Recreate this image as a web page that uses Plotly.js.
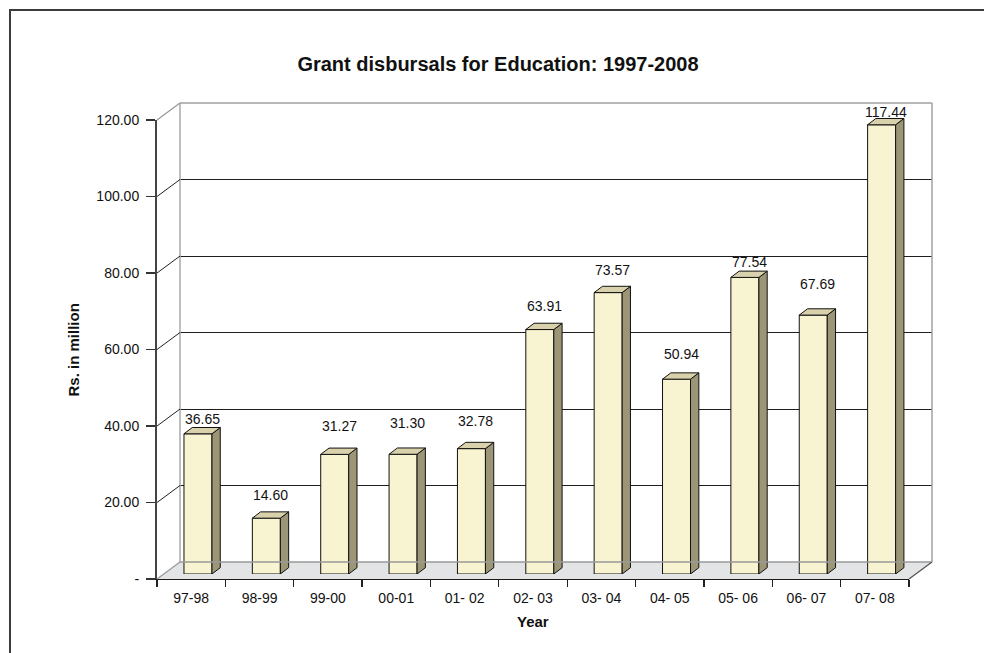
<!DOCTYPE html>
<html>
<head>
<meta charset="utf-8">
<script src="https://cdn.plot.ly/plotly-3.0.1.min.js"></script>
<style>
  html, body { margin: 0; padding: 0; background: #fff; }
  #wrap { position: relative; width: 984px; height: 653px; overflow: hidden; }
  #chart { position: absolute; left: 0; top: 0; width: 984px; height: 653px; }
  #frame { position: absolute; left: 9px; top: 9px; width: 1200px; height: 900px;
           border-left: 2px solid #3c3c3c; border-top: 2px solid #3c3c3c; pointer-events: none; }
</style>
</head>
<body>
<div id="wrap">
  <div id="chart"></div>
  <div id="frame"></div>
</div>
<script>
// Financial years and grant disbursals (Rs. million)
const years = ['97-98', '98-99', '99-00', '00-01', '01- 02', '02- 03', '03- 04', '04- 05', '05- 06', '06- 07', '07- 08'];
const grants = [36.65, 14.60, 31.27, 31.30, 32.78, 63.91, 73.57, 50.94, 77.54, 67.69, 117.44];
const yTickVals = [0, 20, 40, 60, 80, 100, 120];
const yTickText = ['-', '20.00', '40.00', '60.00', '80.00', '100.00', '120.00'];

// Vertical gap (px) between each bar top and its value label
const labelLift = [15, 23, 28, 31, 28, 24, 23, 25, 15, 31, 13];

// --- pseudo-3D geometry (pixels) ---
const W = 984, H = 653;
const M = { l: 157, r: 52, t: 103, b: 74 };
const PW = W - M.l - M.r;          // plot area width
const PH = H - M.t - M.b;          // plot area height
const WALL_DX = 23, WALL_DY = 17;  // back wall offset from the front plane
const BAR_DX = 6.8, BAR_DY = 5;    // plane holding the bar front faces
const FRONT_W = PW - WALL_DX, FRONT_H = PH - WALL_DY;
const YMAX = 120;
const N = years.length;
const catPx = FRONT_W / N;
const unitPx = FRONT_H / YMAX;

const BAR_W = 28 / catPx;          // bar width in category units
const DEPTH_X = 8.3 / catPx;       // bar depth, horizontal component
const DEPTH_Y = 6.3 / unitPx;      // bar depth, vertical component

const fx = v => v / PW, fy = v => v / PH;
const frontDomX = [0, fx(FRONT_W)], frontDomY = [0, fy(FRONT_H)];
const backDomX = [fx(WALL_DX), 1], backDomY = [fy(WALL_DY), 1];
const barDomX = [fx(BAR_DX), fx(BAR_DX + FRONT_W)], barDomY = [fy(BAR_DY), fy(BAR_DY + FRONT_H)];

const font = 'Liberation Sans, Arial, Helvetica, sans-serif';
const idx = years.map((_, i) => i);

// Front faces
const barTrace = {
  type: 'bar', x: idx, y: grants, width: BAR_W,
  xaxis: 'x4', yaxis: 'y4',
  marker: { color: '#f8f3d0', line: { color: '#111', width: 1 } },
  hoverinfo: 'skip', showlegend: false
};

// Side and top faces, built from each bar's value on the same axes
const sideX = [], sideY = [], topX = [], topY = [];
grants.forEach((v, i) => {
  const l = i - BAR_W / 2, r = i + BAR_W / 2;
  sideX.push(r, r, r + DEPTH_X, r + DEPTH_X, r, null);
  sideY.push(0, v, v + DEPTH_Y, DEPTH_Y, 0, null);
  topX.push(l, r, r + DEPTH_X, l + DEPTH_X, l, null);
  topY.push(v, v, v + DEPTH_Y, v + DEPTH_Y, v, null);
});
const sideTrace = {
  type: 'scatter', mode: 'lines', x: sideX, y: sideY, fill: 'toself',
  fillcolor: '#9c9676', line: { color: '#111', width: 1 },
  xaxis: 'x4', yaxis: 'y4', hoverinfo: 'skip', showlegend: false
};
const topTrace = {
  type: 'scatter', mode: 'lines', x: topX, y: topY, fill: 'toself',
  fillcolor: '#d8d1ac', line: { color: '#111', width: 1 },
  xaxis: 'x4', yaxis: 'y4', hoverinfo: 'skip', showlegend: false
};

// Value labels
const annotations = grants.map((v, i) => ({
  xref: 'x4', yref: 'y4', x: i, y: v, xshift: 4.5, yshift: labelLift[i],
  text: v.toFixed(2), showarrow: false, yanchor: 'middle',
  font: { family: font, size: 14, color: '#111' }
}));
annotations.push(
  { xref: 'paper', yref: 'paper', x: fx(FRONT_W / 2), y: -42 / PH, text: '<b>Year</b>',
    showarrow: false, yanchor: 'middle', font: { family: font, size: 15, color: '#111' } },
  { xref: 'paper', yref: 'paper', x: -84 / PW, y: fy(FRONT_H / 2 - 1), text: '<b>Rs. in million</b>',
    showarrow: false, textangle: -90, xanchor: 'center', yanchor: 'middle',
    font: { family: font, size: 15, color: '#111' } }
);

// Floor, back wall border and left-wall lines
const shapes = [];
const wx = fx(WALL_DX), wy = fy(WALL_DY), fw = fx(FRONT_W);
shapes.push({
  type: 'path', xref: 'paper', yref: 'paper', layer: 'below',
  path: `M 0 0 L ${fw} 0 L 1 ${wy} L ${wx} ${wy} Z`,
  fillcolor: '#e3e4e6', line: { width: 0 }
});
const seg = (x0, y0, x1, y1, color, width) => shapes.push({
  type: 'line', xref: 'paper', yref: 'paper', layer: 'above',
  x0, y0, x1, y1, line: { color, width }
});
seg(wx, wy, 1, wy, '#9a9a9a', 1.3);      // floor back edge
seg(fw, 0, 1, wy, '#555555', 1.3);       // floor right edge
seg(wx, wy, wx, 1, '#a8a8a8', 1.5);      // back wall left edge
seg(wx, 1, 1, 1, '#a0a0a0', 1.5);        // back wall top edge
seg(1, wy, 1, 1, '#a0a0a0', 1.5);        // back wall right edge
yTickVals.forEach(v => {
  const yFront = fy(v * unitPx), yBack = fy(WALL_DY + v * unitPx);
  const edge = (v === 0 || v === YMAX);
  seg(0, yFront, wx, yBack, edge ? '#9a9a9a' : '#222222', edge ? 1.3 : 1);
});

const hidden = { visible: true, showgrid: false, zeroline: false, showline: false,
                 showticklabels: false, ticks: '', fixedrange: true };

const layout = {
  width: W, height: H,
  margin: M,
  paper_bgcolor: '#ffffff', plot_bgcolor: 'rgba(0,0,0,0)',
  showlegend: false,
  bargap: 0,
  title: {
    text: '<b>Grant disbursals for Education: 1997-2008</b>',
    x: 498 / W, xanchor: 'center', y: 1 - 64 / H, yanchor: 'middle',
    font: { family: font, size: 20, color: '#111' }
  },
  // Front plane: axis lines, ticks and labels
  xaxis: {
    domain: frontDomX, anchor: 'y', range: [-0.5, N - 0.5],
    tickmode: 'array', tickvals: idx.concat([N]).map(i => i - 0.5),
    showticklabels: false, ticks: 'outside', ticklen: 7, tickwidth: 1.3, tickcolor: '#222',
    showline: true, linecolor: '#1a1a1a', linewidth: 1.3,
    showgrid: false, zeroline: false, fixedrange: true
  },
  xaxis3: {
    overlaying: 'x', anchor: 'y', range: [-0.5, N - 0.5],
    tickmode: 'array', tickvals: idx, ticktext: years, ticks: '',
    ticklabelstandoff: 9,
    tickfont: { family: font, size: 14, color: '#111' },
    showline: false, showgrid: false, zeroline: false, fixedrange: true
  },
  yaxis: {
    domain: frontDomY, anchor: 'x', range: [0, YMAX],
    tickmode: 'array', tickvals: yTickVals, ticktext: yTickText,
    ticks: 'outside', ticklen: 9, tickwidth: 1.3, tickcolor: '#333',
    ticklabelstandoff: 4,
    tickfont: { family: font, size: 14, color: '#111' },
    showline: true, linecolor: '#444', linewidth: 2,
    showgrid: false, zeroline: false, fixedrange: true
  },
  // Back wall: gridlines
  xaxis2: Object.assign({}, hidden, { domain: backDomX, anchor: 'y2', range: [-0.5, N - 0.5] }),
  yaxis2: Object.assign({}, hidden, {
    domain: backDomY, anchor: 'x2', range: [0, YMAX],
    tickmode: 'array', tickvals: [20, 40, 60, 80, 100],
    showgrid: true, gridcolor: '#1e1e1e', gridwidth: 1
  }),
  // Plane of the bar front faces
  xaxis4: Object.assign({}, hidden, { domain: barDomX, anchor: 'y4', range: [-0.5, N - 0.5] }),
  yaxis4: Object.assign({}, hidden, { domain: barDomY, anchor: 'x4', range: [0, YMAX] }),
  shapes, annotations
};

// Empty traces so every subplot is created
const wallTrace = { type: 'scatter', x: [], y: [], xaxis: 'x2', yaxis: 'y2', showlegend: false };
const frontTrace = { type: 'scatter', x: [], y: [], xaxis: 'x', yaxis: 'y', showlegend: false };
const labelTrace = { type: 'scatter', x: [], y: [], xaxis: 'x3', yaxis: 'y', showlegend: false };

Plotly.newPlot('chart', [frontTrace, labelTrace, wallTrace, barTrace, sideTrace, topTrace], layout,
  { staticPlot: true, displayModeBar: false });
</script>
</body>
</html>
